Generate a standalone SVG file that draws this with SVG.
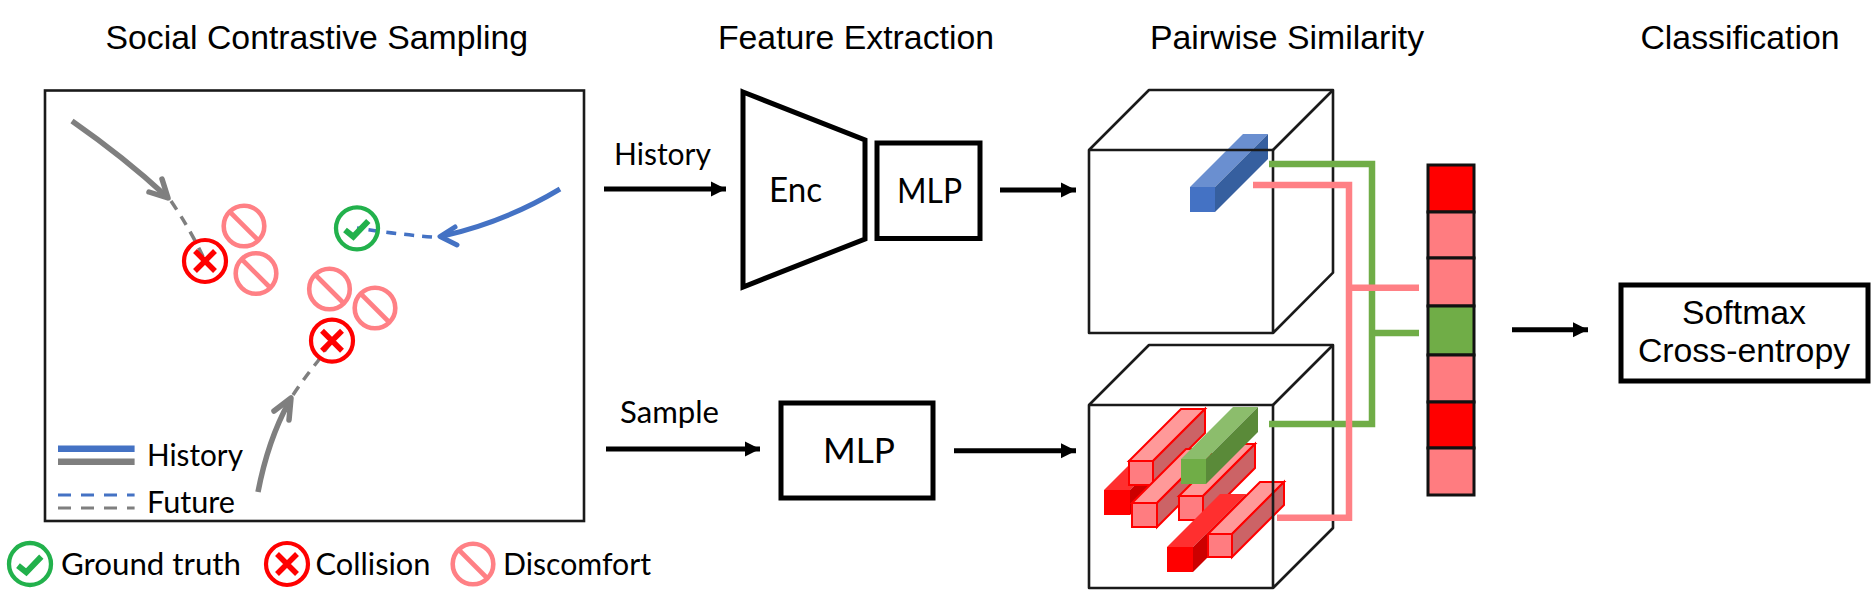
<svg xmlns="http://www.w3.org/2000/svg" width="1874" height="606" viewBox="0 0 1874 606">
<style>
.t{font-family:"Liberation Sans",Arial,sans-serif;font-size:33.8px;fill:#000}
.l{font-family:Lato,"Liberation Sans",sans-serif;font-size:30.5px;fill:#000}
.big{font-size:34.5px}
.m{text-anchor:middle}
.box{fill:none;stroke:#000;stroke-width:5}
.cube{fill:none;stroke:#1a1a1a;stroke-width:2.6;stroke-linejoin:round}
.arr{fill:none;stroke:#000;stroke-width:5;marker-end:url(#head)}
.gs{fill:none;stroke:#7f7f7f;stroke-width:5.5}
.bs{fill:none;stroke:#4472c4;stroke-width:5}
.gb{stroke-linecap:round;stroke-linejoin:round}
.gd{fill:none;stroke:#7f7f7f;stroke-width:3.5;stroke-dasharray:10 8}
.bd{fill:none;stroke:#4472c4;stroke-width:3.5;stroke-dasharray:10 8}
.disc{fill:none;stroke:#ff8085;stroke-width:4.6}
.col{fill:none;stroke:#f00;stroke-width:4.2}
.colx{fill:none;stroke:#f00;stroke-width:5.5}
.ok{fill:none;stroke:#22b14c;stroke-width:4.3}
.okc{fill:none;stroke:#22b14c;stroke-width:6}
.p1{fill:#ff7c80;stroke:#f00;stroke-width:2}.p2{fill:#ff9999;stroke:#f00;stroke-width:2}.p3{fill:#cc6366;stroke:#f00;stroke-width:2}
.r1{fill:#f00}.r2{fill:#ff2f2f}.r3{fill:#c00}
.g1{fill:#70ad47}.g2{fill:#8cbd6c}.g3{fill:#5a8a39}
.b1{fill:#4472c4}.b2{fill:#6a8fd0}.b3{fill:#365f9f}
.cp{fill:none;stroke:#ff8085;stroke-width:6.5}
.cg{fill:none;stroke:#70ad47;stroke-width:6.5}
.cell{stroke:#111;stroke-width:3}
</style>
<defs>
<marker id="head" markerUnits="userSpaceOnUse" markerWidth="17" markerHeight="17" refX="15" refY="8.5" orient="auto"><path d="M0 1L15 8.5L0 16Z" fill="#000"/></marker>
<g id="discomfort"><circle r="20.3" class="disc"/><path d="M-14.5-14.5L14.5 14.5" class="disc"/></g>
<g id="collision"><circle r="21" class="col"/><path d="M-10-10L10 10M10-10L-10 10" class="colx"/></g>
<g id="truth"><circle r="21" class="ok"/><path d="M-12 1.7L-3.7 8.3L11.3-7.3" class="okc"/></g>
</defs>
<rect width="1874" height="606" fill="#fff"/>
<g id="titles">
<text class="t" x="105.5" y="49">Social Contrastive Sampling</text>
<text class="t m" x="856" y="49">Feature Extraction</text>
<text class="t m" x="1287" y="49">Pairwise Similarity</text>
<text class="t m" x="1740" y="49">Classification</text>
</g>
<g id="scene">
<rect x="45" y="90.5" width="539" height="430.5" fill="none" stroke="#1a1a1a" stroke-width="2.6"/>
<path class="gs" d="M72 121Q125 158 166 196"/>
<path class="gs gb" d="M162 179L168 198L149 192"/>
<path class="gd" d="M171 201Q192 232 205 261"/>
<path class="gs" d="M258 492Q268 440 289 402"/>
<path class="gs gb" d="M274 411L291 398L289 420"/>
<path class="gd" d="M293 395Q305 377 318 361Q322 354 332 341"/>
<path class="bs" d="M560 189Q505 222 443 236"/>
<path class="bs gb" d="M455 227L440 236.5L457 245"/>
<path class="bd" d="M432 237Q395 234 357 228"/>
<use href="#collision" x="205" y="261"/>
<use href="#discomfort" x="244" y="226"/>
<use href="#discomfort" x="256" y="273.5"/>
<use href="#truth" x="357" y="228.3"/>
<use href="#discomfort" x="329.5" y="289"/>
<use href="#discomfort" x="375" y="308"/>
<use href="#collision" x="332" y="340.7"/>
<path d="M58 448.7H134.6" stroke="#4472c4" stroke-width="6.5"/>
<path d="M58 461.7H134.6" stroke="#7f7f7f" stroke-width="6.5"/>
<path d="M58 495H134.6" stroke="#4472c4" stroke-width="3" stroke-dasharray="13 10"/>
<path d="M58 508H134.6" stroke="#7f7f7f" stroke-width="3" stroke-dasharray="13 10"/>
<text class="l" x="147" y="465.7" textLength="96" lengthAdjust="spacingAndGlyphs">History</text>
<text class="l" x="147" y="513" textLength="88" lengthAdjust="spacingAndGlyphs">Future</text>
</g>
<g id="legend">
<use href="#truth" x="30" y="564"/>
<text class="l" x="61" y="575" textLength="180" lengthAdjust="spacingAndGlyphs">Ground truth</text>
<use href="#collision" x="287" y="564"/>
<text class="l" x="315.5" y="575" textLength="115" lengthAdjust="spacingAndGlyphs">Collision</text>
<use href="#discomfort" x="473" y="564"/>
<text class="l" x="503" y="575" textLength="148" lengthAdjust="spacingAndGlyphs">Discomfort</text>
</g>
<g id="encoder">
<path d="M743 92L865 140V239L743 287Z" fill="#fff" stroke="#000" stroke-width="5"/>
<text class="l big" x="769" y="201.7" textLength="53" lengthAdjust="spacingAndGlyphs">Enc</text>
</g>
<g id="mlp-top">
<rect class="box" x="877" y="143" width="103" height="95.5"/>
<text class="l big" x="897" y="203" textLength="65" lengthAdjust="spacingAndGlyphs">MLP</text>
</g>
<g id="mlp-bottom">
<rect class="box" x="781" y="403" width="152" height="95"/>
<text class="l big" x="823" y="463" textLength="72" lengthAdjust="spacingAndGlyphs">MLP</text>
</g>
<g id="cube-top">
<path class="b2" d="M1190 187L1243 134H1268L1215 187Z"/>
<path class="b3" d="M1215 187L1268 134V159L1215 212Z"/>
<rect class="b1" x="1190" y="187" width="25" height="25"/>
<path class="cube" d="M1089 150L1149 90H1333V272.7L1273 333M1089 150H1273V333H1089Z"/>
<path class="cube" d="M1273 150L1333 90"/>
</g>
<g id="cube-bottom">
<path class="r2" d="M1104 490L1137 457H1163L1130 490Z"/><path class="r3" d="M1130 490L1163 457V482L1130 515Z"/><rect class="r1" x="1104" y="490" width="26" height="25"/>
<path class="p2" d="M1129 461L1181 409H1205L1153 461Z"/><path class="p3" d="M1153 461L1205 409V433L1153 485Z"/><rect class="p1" x="1129" y="461" width="24" height="24"/>
<path class="p2" d="M1132 503L1186 449H1211L1157 503Z"/><path class="p3" d="M1157 503L1211 449V473L1157 527Z"/><rect class="p1" x="1132" y="503" width="25" height="24"/>
<path class="p2" d="M1179 496L1231 444H1255L1203 496Z"/><path class="p3" d="M1203 496L1255 444V468L1203 520Z"/><rect class="p1" x="1179" y="496" width="24" height="24"/>
<path class="r2" d="M1167 547L1220 494H1246L1193 547Z"/><path class="r3" d="M1193 547L1246 494V519L1193 572Z"/><rect class="r1" x="1167" y="547" width="26" height="25"/>
<path class="p2" d="M1208 534L1260 482H1284L1232 534Z"/><path class="p3" d="M1232 534L1284 482V505L1232 557Z"/><rect class="p1" x="1208" y="534" width="24" height="23"/>
<path class="g2" d="M1181 459L1233 407H1258L1206 459Z"/><path class="g3" d="M1206 459L1258 407V432L1206 484Z"/><rect class="g1" x="1181" y="459" width="25" height="25"/>
<path class="cube" d="M1089 405L1149 345H1333V528L1273 588M1089 405H1273V588H1089Z"/>
<path class="cube" d="M1273 405L1333 345"/>
</g>
<g id="scores">
<rect class="cell" x="1428" y="165" width="46" height="47" fill="#f00"/>
<rect class="cell" x="1428" y="212" width="46" height="46" fill="#ff7c80"/>
<rect class="cell" x="1428" y="258" width="46" height="48" fill="#ff7c80"/>
<rect class="cell" x="1428" y="306" width="46" height="49" fill="#70ad47"/>
<rect class="cell" x="1428" y="355" width="46" height="47" fill="#ff7c80"/>
<rect class="cell" x="1428" y="402" width="46" height="46" fill="#f00"/>
<rect class="cell" x="1428" y="448" width="46" height="47" fill="#ff7c80"/>
</g>
<g id="softmax">
<rect class="box" x="1621" y="285" width="247" height="96"/>
<text class="t m" x="1744" y="324">Softmax</text>
<text class="t m" x="1744" y="362">Cross-entropy</text>
</g>
<g id="connectors">
<path class="arr" d="M604 189H726"/>
<path class="arr" d="M1000 190H1076"/>
<path class="arr" d="M606 449H760"/>
<path class="arr" d="M954 450.7H1076"/>
<path class="arr" d="M1512 329.7H1588"/>
<path class="cg" d="M1269 164H1372V424H1269"/>
<path class="cg" d="M1372 333H1419"/>
<path class="cp" d="M1253 185H1349V517.7H1277"/>
<path class="cp" d="M1349 287.7H1419"/>
<text class="l" x="614" y="165" textLength="97" lengthAdjust="spacingAndGlyphs">History</text>
<text class="l" x="620" y="423" textLength="99" lengthAdjust="spacingAndGlyphs">Sample</text>
</g>
</svg>
